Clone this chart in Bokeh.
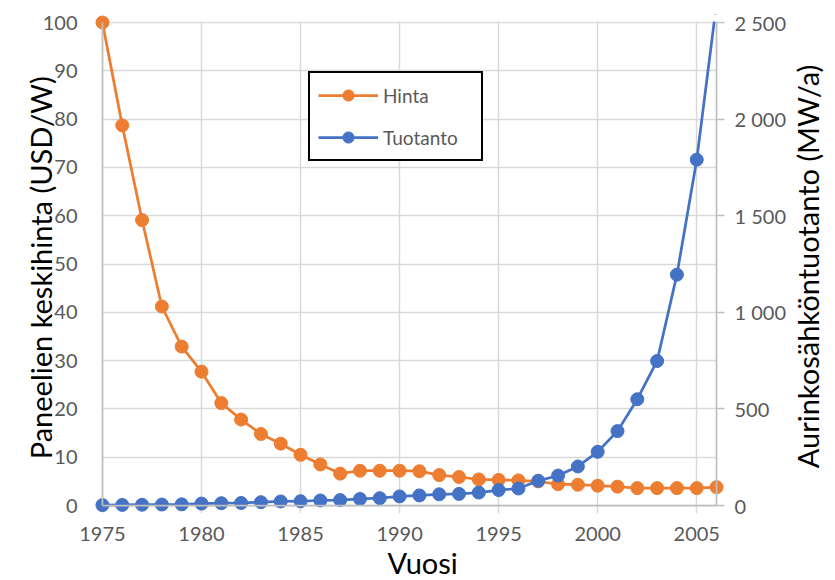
import math
from bokeh.plotting import figure
from bokeh.layouts import row, column
from bokeh.models import (Range1d, LinearAxis, FixedTicker, Legend, LegendItem,
                          BoxAnnotation, Arrow, Label)
from bokeh.embed import file_html
from bokeh.resources import INLINE

years = list(range(1975, 2007))
hinta = [100, 78.7, 59.1, 41.2, 32.9, 27.7, 21.2, 17.8, 14.8, 12.8, 10.5, 8.5, 6.6, 7.2, 7.2, 7.2,
         7.1, 6.3, 5.9, 5.4, 5.3, 5.2, 5.0, 4.4, 4.3, 4.1, 3.9, 3.6, 3.6, 3.6, 3.6, 3.8]
tuotanto = [2, 3, 4, 5, 6, 10, 12, 13, 17, 21, 22, 26, 28, 34, 38, 47,
            52, 58, 60, 67, 80, 88, 128, 155, 202, 278, 385, 550, 748, 1195, 1790, 2600]

x_ticks = [1975, 1980, 1985, 1990, 1995, 2000, 2005]
left_ticks = [0, 10, 20, 30, 40, 50, 60, 70, 80, 90, 100]
right_ticks = [0, 500, 1000, 1500, 2000, 2500]
right_tick_labels = ["0", "500", "1 000", "1 500", "2 000", "2 500"]

X0, X1 = 1975, 2006
Y0, Y1 = 0, 100
R1 = 2500

ORANGE = "#ED7D31"
BLUE = "#4472C4"
GRID = "#D9D9D9"
AXIS = "#BFBFBF"
TXT = "#595959"
FONT = "Lato"

W_MAIN, H_MAIN = 789, 544
W_SIDE = 835 - W_MAIN
H_BOTTOM = 580 - H_MAIN

# frame padded by 8px on every side so edge markers are not clipped
PX_X = 618 / (X1 - X0)
PX_Y = 483 / (Y1 - Y0)
PAD = 8
xr = Range1d(X0 - PAD / PX_X, X1 + PAD / PX_X)
yr = Range1d(Y0 - PAD / PX_Y, Y1 + PAD / PX_Y)
k = R1 / Y1

p = figure(width=W_MAIN, height=H_MAIN, output_backend="svg", toolbar_location=None,
           x_range=xr, y_range=yr,
           min_border_left=94, min_border_right=W_MAIN - 728, min_border_top=14,
           min_border_bottom=H_MAIN - 513)
p.extra_y_ranges = {"prod": Range1d(yr.start * k, yr.end * k)}
p.outline_line_color = None

p.xaxis.ticker = FixedTicker(ticks=x_ticks)
p.yaxis.ticker = FixedTicker(ticks=left_ticks)
p.xgrid.ticker = FixedTicker(ticks=x_ticks)
p.ygrid.ticker = FixedTicker(ticks=left_ticks)
p.xgrid.grid_line_color = GRID
p.ygrid.grid_line_color = GRID
p.xgrid.grid_line_width = 1.5
p.ygrid.grid_line_width = 1.5

raxis = LinearAxis(y_range_name="prod", ticker=FixedTicker(ticks=right_ticks),
                   major_label_overrides={t: l for t, l in zip(right_ticks, right_tick_labels)})
p.add_layout(raxis, "right")

for ax in [p.xaxis[0], p.yaxis[0], raxis]:
    ax.axis_line_color = None
    ax.major_tick_line_color = None
    ax.minor_tick_line_color = None
    ax.major_label_text_color = TXT
    ax.major_label_text_font = FONT
    ax.major_label_text_font_size = "20px"
    ax.axis_label_text_color = "black"
    ax.axis_label_text_font = FONT
    ax.axis_label_text_font_style = "normal"
    ax.axis_label_text_font_size = "29px"

p.yaxis[0].axis_label = "Paneelien keskihinta  (USD/W)"
p.yaxis[0].major_label_standoff = 11
p.yaxis[0].axis_label_standoff = -18
p.xaxis[0].major_label_standoff = 7
raxis.major_tick_line_color = AXIS
raxis.major_tick_line_width = 1.5
raxis.major_tick_in = PAD
raxis.major_tick_out = 0
raxis.major_label_standoff = 10

# blank strips outside the real plot area (hide grid stubs)
for kw in [dict(bottom=Y1 + 0.2), dict(right=X0), dict(left=X1)]:
    p.add_layout(BoxAnnotation(fill_color="white", fill_alpha=1, line_color=None,
                               level="underlay", **kw))

l1 = p.line(years, hinta, line_color=ORANGE, line_width=2.75)
s1 = p.scatter(years, hinta, size=13, fill_color=ORANGE, line_color=ORANGE)
l2 = p.line(years, tuotanto, line_color=BLUE, line_width=2.75, y_range_name="prod")
s2 = p.scatter(years, tuotanto, size=13, fill_color=BLUE, line_color=BLUE, y_range_name="prod")

# values above the axis maximum are cut at the top of the plot area
p.add_layout(BoxAnnotation(bottom=Y1 + 0.2, left=1990, fill_color="white", fill_alpha=1,
                           line_color=None, level="annotation"))

# axis lines
for xs, ys, xe, ye in [(X0, Y0, X0, Y1), (X0, Y0, X1, Y0), (X1, Y0, X1, Y1)]:
    p.add_layout(Arrow(x_start=xs, y_start=ys, x_end=xe, y_end=ye, end=None,
                       line_color=AXIS, line_width=1.75, level="annotation"))

legend = Legend(items=[LegendItem(label="Hinta", renderers=[l1, s1]),
                       LegendItem(label="Tuotanto", renderers=[l2, s2])],
                location=(214, 352), border_line_color="black", border_line_width=2,
                border_line_alpha=1,
                label_text_font=FONT, label_text_font_size="19px", label_text_color=TXT,
                glyph_width=60, glyph_height=28, label_height=22, label_width=90,
                spacing=14, label_standoff=5, padding=8, margin=0,
                background_fill_alpha=1)
p.add_layout(legend, "center")


def blank(w, h):
    f = figure(width=w, height=h, output_backend="svg", toolbar_location=None,
               x_range=Range1d(0, w), y_range=Range1d(0, h), min_border=0)
    f.axis.visible = False
    f.grid.visible = False
    f.outline_line_color = None
    return f


# x axis title below the chart
b = blank(W_MAIN, H_BOTTOM)
b.add_layout(Label(x=411, y=H_BOTTOM / 2, text="Vuosi", text_font=FONT,
                   text_font_size="29px", text_color="black",
                   text_align="center", text_baseline="middle"))

# right axis title, reading upwards
s = blank(W_SIDE, 580)
s.add_layout(Label(x=807 - W_MAIN, y=580 - 266, text="Aurinkosähköntuotanto (MW/a)",
                   angle=math.pi / 2, text_font=FONT, text_font_size="29px",
                   text_color="black", text_align="center", text_baseline="middle"))

layout = row(column(p, b, spacing=0), s, spacing=0)

open("out.html", "w").write(file_html(layout, INLINE))
